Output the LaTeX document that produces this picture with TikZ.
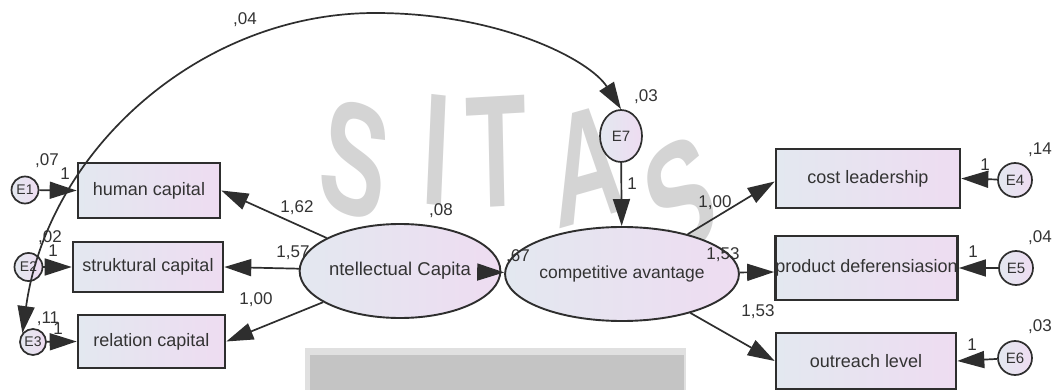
\documentclass[tikz,border=0pt]{standalone}
\usepackage{fontspec}
\setmainfont{Liberation Sans}
\usetikzlibrary{arrows.meta,shapes.geometric}
\definecolor{lineC}{HTML}{2E2E2E}
\definecolor{txtC}{HTML}{333333}
\definecolor{fillL}{HTML}{E3E8F0}
\definecolor{fillR}{HTML}{EEDCF1}
\definecolor{wmC}{HTML}{D4D4D4}
\tikzset{
  obsbox/.style={draw=lineC, line width=2.6pt, rectangle, inner sep=0pt,
    left color=fillL, right color=fillR, text=txtC, font=\fontsize{18}{18}\selectfont},
  latent/.style={draw=lineC, line width=1.9pt, ellipse, inner sep=0pt,
    left color=fillL, right color=fillR, text=txtC, font=\fontsize{17.5}{17.5}\selectfont},
  errc/.style={draw=lineC, line width=1.7pt, circle, inner sep=0pt,
    left color=fillL, right color=fillR, text=txtC, font=\fontsize{15}{15}\selectfont},
  lbl/.style={text=txtC, font=\fontsize{17}{17}\selectfont, inner sep=0pt},
  arr/.style={draw=lineC, line width=1.7pt, -{Triangle[length=27pt,width=17pt]}},
  dbl/.style={draw=lineC, line width=1.7pt, {Triangle[length=27pt,width=17pt]}-{Triangle[length=27pt,width=17pt]}},
  wm/.style={text=wmC, font=\fontsize{160}{160}\bfseries, inner sep=0pt, xscale=0.62, transform shape}
}
\begin{document}
\begin{tikzpicture}[x=1pt,y=-1pt]
\useasboundingbox[fill=white] (0,0) rectangle (1052,390);
% watermark
\node[wm, rotate=-12] (w1) at (355,160) {S};
\node[wm, rotate=-4] (w2) at (437,150) {I};
\node[wm, rotate=2] (w3) at (497,152) {T};
\node[wm, rotate=10] (w4) at (587,165) {A};
\node[wm, rotate=20] (w5) at (680,198) {S};
\fill[black!12] (305,348) rectangle (686,390);
\fill[black!23] (310,355) rectangle (684,390);

% observed variables
\node[obsbox, minimum width=142pt, minimum height=55pt] (hc) at (149,190.5) {human capital};
\node[obsbox, minimum width=150pt, minimum height=50pt] (sc) at (148,267) {struktural capital};
\node[obsbox, minimum width=147pt, minimum height=53pt] (rc) at (151.5,341.5) {relation capital};
\node[obsbox, minimum width=184pt, minimum height=59pt] (cl) at (868,178.5) {cost leadership};
\node[obsbox, minimum width=179pt, minimum height=64pt] (pd) at (866.5,268) {product deferensiasion};
\node[obsbox, minimum width=180pt, minimum height=56pt] (ol) at (866,361) {outreach level};

% latent variables
\node[latent, minimum width=146pt, minimum height=94pt, font=\fontsize{18.5}{18.5}\selectfont] (ic) at (400,271) {ntellectual Capita};
\node[latent, minimum width=166pt, minimum height=94pt] (ca) at (622,274) {competitive avantage};

% error terms
\node[errc, minimum size=27pt, font=\fontsize{14}{14}\selectfont] (e1) at (25,190) {E1};
\node[errc, minimum size=28pt, font=\fontsize{14}{14}\selectfont] (e2) at (28.5,267) {E2};
\node[errc, minimum size=26pt, font=\fontsize{14}{14}\selectfont] (e3) at (33,342) {E3};
\node[errc, minimum size=34pt] (e4) at (1015,180) {E4};
\node[errc, minimum size=34pt] (e5) at (1016,268) {E5};
\node[errc, minimum size=34pt] (e6) at (1015,358) {E6};
\node[errc, ellipse, minimum width=42pt, minimum height=52pt] (e7) at (621,136) {E7};

% paths
\draw[arr] (e1) -- (hc.west);
\draw[arr] (e2) -- (sc.west);
\draw[arr] (e3) -- (rc.west);
\draw[arr] (e4) -- (cl.east);
\draw[arr] (e5) -- (pd.east);
\draw[arr] (e6) -- (ol.east);
\draw[arr] (e7) -- (ca);
\draw[arr] (ic) -- (hc.east);
\draw[arr] (ic) -- (sc.east);
\draw[arr] (ic) -- (rc.east);
\draw[arr] (ic) -- (ca);
\draw[arr] (ca) -- ([yshift=-3pt]cl.west);
\draw[arr] (ca) -- ([yshift=-4pt]pd.west);
\draw[arr] (ca) -- (ol.west);

% covariance
\coordinate (top) at (375,13);
\draw[dbl] (e3.140) .. controls (48,150) and (200,13) .. (top) .. controls (500,13) and (590,60) .. (e7.north);

% labels
\node[lbl] (l04) at (245,20) {,04};
\node[lbl] (l03a) at (646,97) {,03};
\node[lbl] (l07) at (47,161) {,07};
\node[lbl] (l1a) at (65,174) {1};
\node[lbl] (l02) at (50,238) {,02};
\node[lbl] (l1b) at (53,251) {1};
\node[lbl] (l11) at (48,319) {,11};
\node[lbl] (l1c) at (58,329) {1};
\node[lbl] (l162) at (297,208) {1,62};
\node[lbl] (l157) at (293,253) {1,57};
\node[lbl] (l100a) at (256,300) {1,00};
\node[lbl] (l08) at (441,211) {,08};
\node[lbl] (l67) at (518,257) {,67};
\node[lbl] (l1e7) at (632,184) {1};
\node[lbl] (l100b) at (715,203) {1,00};
\node[lbl] (l153a) at (723,255) {1,53};
\node[lbl] (l153b) at (758,312) {1,53};
\node[lbl] (l1e4) at (985,165) {1};
\node[lbl] (l14) at (1040,150) {,14};
\node[lbl] (l1e5) at (973,252) {1};
\node[lbl] (l04b) at (1040,238) {,04};
\node[lbl] (l1e6) at (972,345) {1};
\node[lbl] (l03b) at (1040,327) {,03};
\end{tikzpicture}
\end{document}
